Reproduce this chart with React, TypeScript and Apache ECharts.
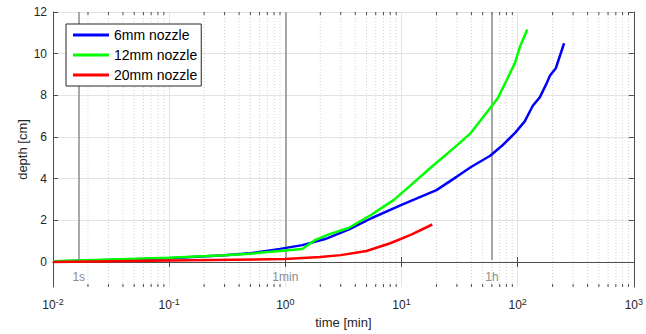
import React, { useEffect, useRef } from "react";
import * as echarts from "echarts";

// ---- data (time in minutes, depth in cm) ----
const blueT = [0.01, 0.1, 0.3, 0.5, 0.9, 1.4, 2.2, 3.5, 5.5, 10, 20, 30, 40, 58, 75, 95, 115, 135, 155, 175, 190, 213, 251];
const blueD = [0.03, 0.18, 0.32, 0.42, 0.63, 0.81, 1.1, 1.55, 2.1, 2.74, 3.45, 4.1, 4.57, 5.1, 5.63, 6.2, 6.75, 7.5, 7.9, 8.5, 8.95, 9.3, 10.5];

const greenT = [0.01, 0.1, 0.3, 0.5, 1.0, 1.4, 1.8, 2.3, 3.5, 5.5, 8.6, 11, 18, 30, 39, 48, 62, 68, 80, 95, 105, 121];
const greenD = [0.04, 0.2, 0.32, 0.4, 0.55, 0.62, 1.05, 1.3, 1.63, 2.27, 2.98, 3.5, 4.55, 5.6, 6.16, 6.8, 7.6, 7.9, 8.7, 9.57, 10.36, 11.16];

const redT = [0.01, 0.1, 1.0, 2.0, 3.0, 5.0, 8.0, 12, 18.4];
const redD = [0.0, 0.07, 0.14, 0.24, 0.33, 0.53, 0.9, 1.3, 1.8];

const seriesNames = ["6mm nozzle", "12mm nozzle", "20mm nozzle"];
const seriesColors = ["#0000ff", "#00ff00", "#ff0000"];

const refTimes = [1 / 60, 1, 60];
const refLabels = ["1s", "1min", "1h"];

const yTicks = [0, 2, 4, 6, 8, 10, 12];
const decades = [0.01, 0.1, 1, 10, 100];
const minorMultipliers = [2, 3, 4, 5, 6, 7, 8, 9];

const Y_MIN = -1.2;
const Y_MAX = 12;
const X_MIN = 0.01;
const X_MAX = 1000;

const zip = (t: number[], d: number[]) => t.map((v, i) => [v, d[i]]);

export default function App() {
  const ref = useRef<HTMLDivElement>(null);
  useEffect(() => {
    if (!ref.current) return;
    const chart = echarts.init(ref.current, undefined, { renderer: "svg" });
    const minorTicks: number[][] = [];
    decades.forEach((d) => minorMultipliers.forEach((m) => minorTicks.push([d * m, 0])));

    const textColor = "#262626";
    const axisColor = "#4d4d4d";
    const gridColor = "#e3e3e3";
    const font = "Liberation Sans, Arial, sans-serif";

    const xBase = {
      type: "log" as const,
      logBase: 10,
      min: X_MIN,
      max: X_MAX,
      splitNumber: 5,
      axisLine: { show: true, lineStyle: { color: axisColor, width: 1 } },
      axisTick: { show: true, inside: true, length: 5, lineStyle: { color: axisColor } },
    };
    const yBase = {
      type: "value" as const,
      min: Y_MIN,
      max: Y_MAX,
      axisLine: { show: true, lineStyle: { color: axisColor, width: 1 } },
      axisTick: { show: true, inside: true, length: 5, customValues: yTicks, lineStyle: { color: axisColor } },
      splitLine: { show: false },
    };

    const lines = [zip(blueT, blueD), zip(greenT, greenD), zip(redT, redD)];

    chart.setOption({
      animation: false,
      textStyle: { fontFamily: font },
      grid: { left: 53, right: 8, top: 12, bottom: 45, containLabel: false },
      legend: {
        data: seriesNames,
        orient: "vertical",
        left: 66,
        top: 24,
        icon: "rect",
        itemWidth: 36,
        itemHeight: 3,
        itemGap: 6,
        padding: [4, 4, 4, 7],
        borderColor: "#262626",
        borderWidth: 1,
        borderRadius: 0,
        backgroundColor: "#ffffff",
        textStyle: { fontSize: 14, color: "#000", fontFamily: font, lineHeight: 14 },
        z: 10,
      },
      xAxis: [
        {
          ...xBase,
          position: "bottom",
          name: "time [min]",
          nameLocation: "middle",
          nameGap: 29,
          nameMoveOverlap: false,
          nameTextStyle: { fontSize: 13, color: textColor, fontFamily: font },
          axisLabel: {
            color: textColor,
            margin: 10,
            formatter: (v: number) => `{b|10}{s|${Math.round(Math.log10(v))}}`,
            rich: {
              b: { fontSize: 12, color: textColor, fontFamily: font },
              s: { fontSize: 9, color: textColor, fontFamily: font, padding: [0, 0, 7, 0] },
            },
          },
          splitLine: { show: true, lineStyle: { color: gridColor, width: 1 } },
        },
        {
          ...xBase,
          position: "top",
          axisLabel: { show: false },
          splitLine: { show: false },
        },
      ],
      yAxis: [
        {
          ...yBase,
          position: "left",
          name: "depth [cm]",
          nameLocation: "middle",
          nameGap: 24,
          nameMoveOverlap: false,
          nameTextStyle: { fontSize: 13, color: textColor, fontFamily: font },
          axisLabel: {
            color: textColor,
            fontSize: 12,
            margin: 6,
            customValues: yTicks,
          },
        },
        {
          ...yBase,
          position: "right",
          axisLabel: { show: false },
        },
      ],
      series: [
        {
          type: "custom",
          name: "minor",
          xAxisIndex: 0,
          yAxisIndex: 0,
          z: 1,
          silent: true,
          data: minorTicks,
          encode: { x: 0, y: 1 },
          renderItem: (_p: any, api: any) => {
            const v = api.value(0);
            const top = api.coord([v, Y_MAX]);
            const bot = api.coord([v, Y_MIN]);
            return {
              type: "group",
              children: [
                {
                  type: "line",
                  shape: { x1: top[0], y1: top[1], x2: bot[0], y2: bot[1] },
                  style: { stroke: "#d2d2d2", lineWidth: 1, lineDash: [1, 2] },
                },
                {
                  type: "line",
                  shape: { x1: bot[0], y1: bot[1], x2: bot[0], y2: bot[1] - 3 },
                  style: { stroke: axisColor, lineWidth: 1 },
                },
                {
                  type: "line",
                  shape: { x1: top[0], y1: top[1], x2: top[0], y2: top[1] + 3 },
                  style: { stroke: axisColor, lineWidth: 1 },
                },
              ],
            };
          },
          markLine: {
            silent: true,
            z: 2,
            symbol: "none",
            lineStyle: { color: "#8c8c8c", width: 1.5, type: "solid" },
            label: {
              show: true,
              position: "end",
              distance: 11,
              color: "#8c8c8c",
              fontSize: 12,
              fontFamily: font,
            },
            data: refTimes.map((t, i) => [
              { coord: [t, Y_MAX], label: { formatter: refLabels[i] } },
              { coord: [t, 0.1] },
            ]),
          },
        },
        {
          type: "line",
          name: "ygrid",
          data: [],
          silent: true,
          z: 0,
          markLine: {
            silent: true,
            z: 0,
            symbol: "none",
            label: { show: false },
            lineStyle: { color: gridColor, width: 1, type: "solid" },
            data: yTicks.map((v) => ({ yAxis: v })),
          },
        },
        ...lines.map((d, i) => ({
          type: "line",
          name: seriesNames[i],
          data: d,
          xAxisIndex: 0,
          yAxisIndex: 0,
          showSymbol: false,
          symbol: "none",
          z: 3 + i,
          lineStyle: { color: seriesColors[i], width: 2.5 },
          itemStyle: { color: seriesColors[i] },
        })),
      ],
    });
    return () => chart.dispose();
  }, []);
  return <div ref={ref} style={{ width: 646, height: 334, position: "absolute", left: 0, top: 0 }} />;
}
